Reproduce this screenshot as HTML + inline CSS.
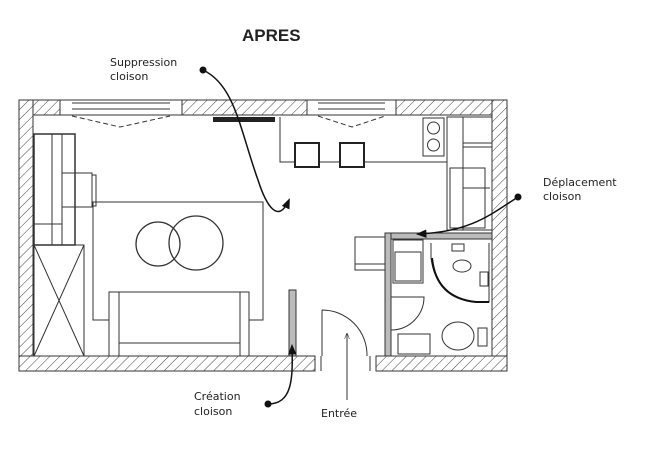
<!DOCTYPE html>
<html><head><meta charset="utf-8"><style>
html,body{margin:0;padding:0;background:#fff;}
svg{display:block;}
text{font-family:"DejaVu Sans","Liberation Sans",sans-serif;fill:#222;}
</style></head><body>
<svg width="645" height="449" viewBox="0 0 645 449" xmlns="http://www.w3.org/2000/svg">
<defs>
<pattern id="h" patternUnits="userSpaceOnUse" width="7" height="7" patternTransform="rotate(45)">
<rect width="7" height="7" fill="#fff"/><line x1="0" y1="0" x2="0" y2="7" stroke="#444" stroke-width="1"/>
</pattern>
<marker id="ar" viewBox="0 0 10 10" refX="8" refY="5" markerWidth="7" markerHeight="7" orient="auto"><path d="M0,1 L10,5 L0,9 z" fill="#111"/></marker>
<marker id="ar2" viewBox="0 0 10 10" refX="8" refY="5" markerWidth="6" markerHeight="6" orient="auto"><path d="M0,1 L10,5 L0,9" fill="none" stroke="#333"/></marker>
</defs>
<text x="242" y="41" font-size="17" font-weight="bold" style="font-family:'Liberation Sans',sans-serif">APRES</text>
<!-- walls -->
<g stroke="#333" stroke-width="1" fill="url(#h)">
<rect x="19" y="100" width="41" height="15"/>
<rect x="182" y="100" width="125" height="15"/>
<rect x="396" y="100" width="111" height="15"/>
<rect x="19" y="100" width="14" height="271"/>
<rect x="492" y="100" width="15" height="271"/>
<rect x="19" y="356" width="296" height="15"/>
<rect x="376" y="356" width="131" height="15"/>
</g>
<g stroke="#333" stroke-width="1" fill="none">
<!-- windows -->
<rect x="60" y="100" width="122" height="15"/>
<line x1="72" y1="103" x2="170" y2="103"/><line x1="72" y1="109" x2="170" y2="109"/>
<rect x="307" y="100" width="89" height="15"/>
<line x1="318" y1="103" x2="385" y2="103"/><line x1="318" y1="109" x2="385" y2="109"/>
<path d="M72,116 L120,127 L170,116" stroke-dasharray="5,3"/>
<path d="M318,116 L352,127 L385,116" stroke-dasharray="5,3"/>
<!-- door frame bottom -->
<line x1="315" y1="356" x2="315" y2="371"/><line x1="321" y1="356" x2="321" y2="371"/>
<line x1="370" y1="356" x2="370" y2="371"/><line x1="376" y1="356" x2="376" y2="371"/>
<!-- wardrobe -->
<rect x="34" y="134" width="41" height="111" stroke-width="1.5"/>
<line x1="52" y1="134" x2="52" y2="245"/><line x1="62" y1="134" x2="62" y2="245"/>
<line x1="34" y1="224" x2="62" y2="224"/>
<rect x="62" y="173" width="30" height="34"/><rect x="92" y="175" width="4" height="31"/>
<rect x="34" y="245" width="50" height="111"/>
<line x1="34" y1="245" x2="84" y2="356"/><line x1="84" y1="245" x2="34" y2="356"/>
<!-- rug -->
<rect x="93" y="202" width="170" height="118"/>
<circle cx="158" cy="244" r="22" stroke-width="1.3"/>
<circle cx="196" cy="243" r="27" stroke-width="1.3"/>
<!-- sofa -->
<rect x="109" y="292" width="140" height="64" fill="#fff"/>
<rect x="119" y="292" width="121" height="64"/>
<line x1="119" y1="343" x2="240" y2="343"/>
<!-- kitchen -->
<polyline points="280,117 280,162 447,162"/>
<rect x="423" y="118" width="21" height="38"/>
<circle cx="433.5" cy="128" r="6"/><circle cx="433.5" cy="145" r="6"/>
<rect x="447" y="117" width="45" height="113"/>
<line x1="463" y1="117" x2="463" y2="230"/>
<line x1="463" y1="143" x2="492" y2="143"/><line x1="463" y1="147" x2="492" y2="147"/>
<rect x="450" y="168" width="35" height="60"/>
<line x1="463" y1="188" x2="490" y2="188"/>
<!-- desk -->
<rect x="355" y="237" width="30" height="33"/><line x1="355" y1="264" x2="385" y2="264"/>
<!-- washing machine -->
<rect x="393" y="240" width="30" height="43"/><rect x="395" y="252" width="26" height="29"/>
<!-- shower -->
<path d="M431,243 L431,258 Q436,298 476,302 L489,302 L489,243" />
<rect x="452" y="244" width="12" height="7"/>
<ellipse cx="462" cy="266" rx="9" ry="6"/>
<rect x="480" y="272" width="8" height="14"/>
<!-- toilet -->
<ellipse cx="458" cy="336" rx="16" ry="14"/>
<rect x="478" y="328" width="9" height="18"/>
<!-- sink -->
<rect x="398" y="334" width="32" height="20"/>
<!-- bathroom door -->
<path d="M391,297 L424,297 A33,33 0 0 1 391,330"/>
<!-- entrance door -->
<path d="M322,310 L322,356 M322,310 A45,45 0 0 1 367,356"/>
</g>
<!-- stools -->
<g stroke="#222" stroke-width="2" fill="#fff">
<rect x="295" y="143" width="24" height="24"/><rect x="340" y="143" width="24" height="24"/>
</g>
<!-- radiator -->
<rect x="213" y="117" width="62" height="5" fill="#222"/>
<!-- partitions -->
<rect x="385" y="233" width="107" height="6" fill="#bbb" stroke="#333"/>
<rect x="385" y="233" width="6" height="123" fill="#bbb" stroke="#333"/>
<rect x="289" y="290" width="7" height="66" fill="#bbb" stroke="#333"/>
<path d="M432,258 Q436,298 476,302 L489,302" fill="none" stroke="#111" stroke-width="2"/>
<!-- connectors -->
<g fill="none" stroke="#111" stroke-width="1.5">
<path d="M203,70 C235,85 240,130 258,180 C266,205 278,225 289,200" marker-end="url(#ar)"/>
<path d="M518,197 C490,215 470,232 418,234" marker-end="url(#ar)"/>
<path d="M268,404 C292,404 293,380 292,346" marker-end="url(#ar)"/>
</g>
<path d="M347,400 L347,334" stroke="#333" fill="none" marker-end="url(#ar2)"/>
<circle cx="203" cy="70" r="3.5" fill="#111"/>
<circle cx="518" cy="197" r="3.5" fill="#111"/>
<circle cx="268" cy="404" r="3.5" fill="#111"/>
<g font-size="11">
<text x="110" y="66">Suppression</text><text x="110" y="80">cloison</text>
<text x="543" y="186">Déplacement</text><text x="543" y="200">cloison</text>
<text x="194" y="400">Création</text><text x="194" y="415">cloison</text>
<text x="321" y="417">Entrée</text>
</g>
</svg>
</body></html>
